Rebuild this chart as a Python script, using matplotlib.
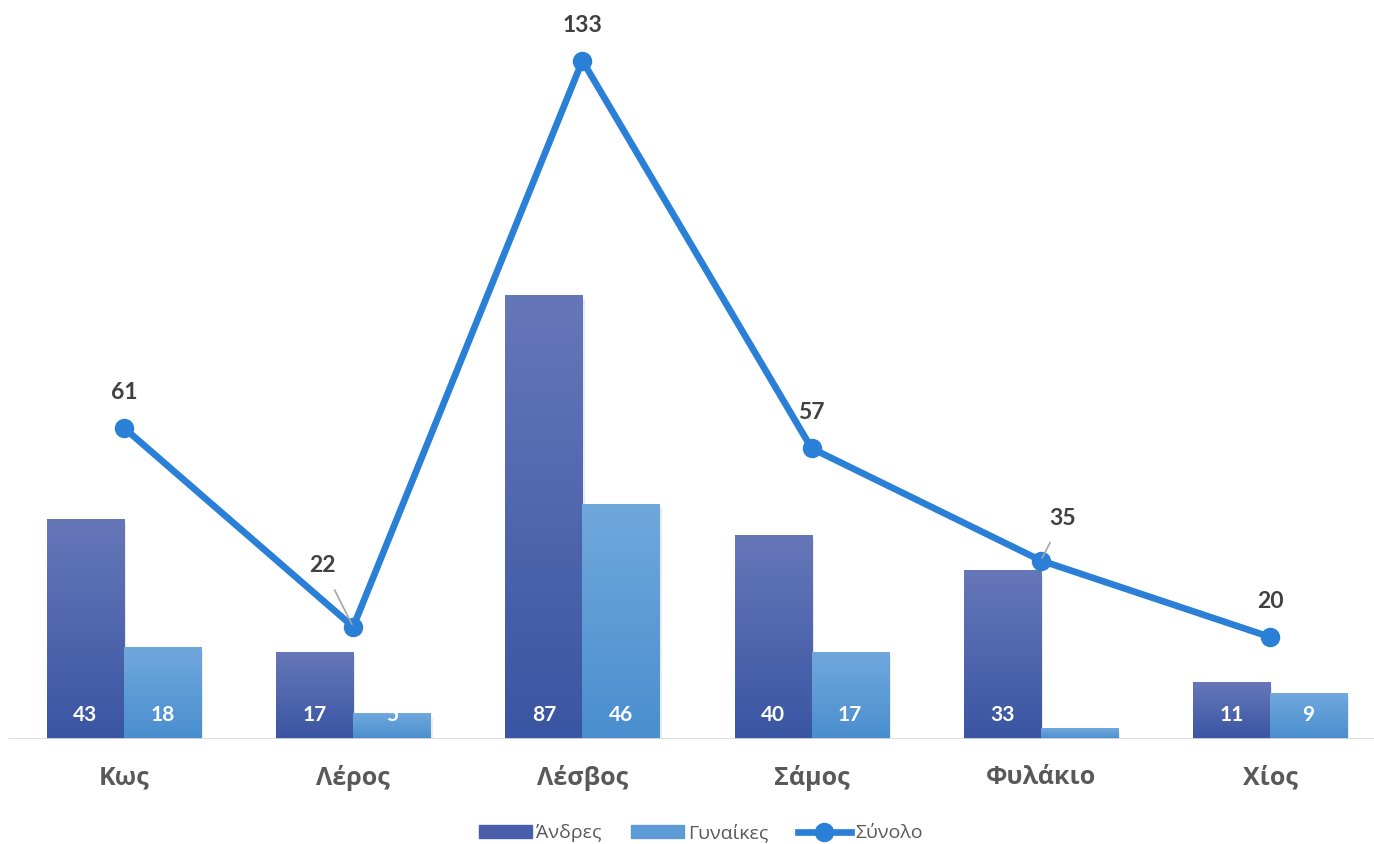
import matplotlib
matplotlib.use("Agg")
import matplotlib.pyplot as plt
import numpy as np
from matplotlib.patches import Rectangle
from matplotlib.lines import Line2D
from matplotlib.colors import LinearSegmentedColormap

categories = ["Κως", "Λέρος", "Λέσβος", "Σάμος", "Φυλάκιο", "Χίος"]
men = [43, 17, 87, 40, 33, 11]
women = [18, 5, 46, 17, 2, 9]
total = [61, 22, 133, 57, 35, 20]
series_names = ["Άνδρες", "Γυναίκες", "Σύνολο"]

W, H = 1374, 844
fig = plt.figure(figsize=(W / 100, H / 100), dpi=100)
ax = fig.add_axes([9.4 / W, (H - 739) / H, 1375.2 / W, 714 / H])
ax.set_xlim(-0.5, 5.5)
ax.set_ylim(0, 140)
ax.axis("off")

men_cmap = LinearSegmentedColormap.from_list("m", ["#3a55a3", "#6677b9"])
wom_cmap = LinearSegmentedColormap.from_list("w", ["#4a8ecf", "#70a8dc"])
grad = np.linspace(0, 1, 256).reshape(-1, 1)

bw = 0.336
x = np.arange(len(categories))


def gbar(xc, h, cmap):
    x0, x1 = xc - bw / 2, xc + bw / 2
    ax.add_patch(Rectangle((x0 + 0.01, -0.8), bw, h, color="#000000", alpha=0.08, zorder=1, lw=0))
    ax.imshow(grad, extent=[x0, x1, 0, h], origin="lower", cmap=cmap, aspect="auto", zorder=2)


for i in range(len(categories)):
    gbar(x[i] - bw / 2, men[i], men_cmap)
    gbar(x[i] + bw / 2, women[i], wom_cmap)
ax.set_xlim(-0.5, 5.5)
ax.set_ylim(0, 140)

ax.axhline(0, color="#d9d9d9", lw=2, zorder=3)

num_font = ["Lato", "DejaVu Sans"]
for i in range(len(categories)):
    ax.text(x[i] - bw / 2, 4.7, str(men[i]), ha="center", va="center", color="white",
            fontsize=15, fontweight="bold", family=num_font, zorder=5)
    if women[i] >= 5:
        ax.text(x[i] + bw / 2, 4.7, str(women[i]), ha="center", va="center", color="white",
                fontsize=15, fontweight="bold", family=num_font, zorder=5)

line_color = "#2a7fd7"
ax.plot(x, total, color=line_color, lw=4.8, marker="o", markersize=13, zorder=6,
        solid_capstyle="round", solid_joinstyle="round")

offsets = {1: (-0.135, 12.0), 4: (0.096, 8.3)}
for i, t in enumerate(total):
    if i in offsets:
        dx, dy = offsets[i]
        ax.annotate(str(t), xy=(x[i], t), xytext=(x[i] + dx, t + dy), ha="center", va="center",
                    fontsize=16.5, fontweight="bold", color="#404040", family=num_font, zorder=7,
                    arrowprops=dict(arrowstyle="-", color="#a6a6a6", lw=1.2, shrinkA=9, shrinkB=2))
    else:
        ax.text(x[i], t + 7.0, str(t), ha="center", va="center", fontsize=16.5, fontweight="bold",
                color="#404040", family=num_font, zorder=7)

for i, c in enumerate(categories):
    ax.text(x[i], -7.6, c, ha="center", va="center", fontsize=18, fontweight="bold",
            color="#595959", family=["Open Sans", "DejaVu Sans"], clip_on=False)

handles = [
    Rectangle((0, 0), 1, 1, color="#4a5fab"),
    Rectangle((0, 0), 1, 1, color="#5e9ad6"),
    Line2D([0], [0], color=line_color, lw=4.8, marker="o", markersize=13),
]
leg = fig.legend(handles, series_names, loc="center", bbox_to_anchor=(0.51, (H - 833) / H),
                 ncol=3, frameon=False, handlelength=2.75, handleheight=0.6,
                 handletextpad=0.2, columnspacing=1.5,
                 prop={"family": ["Open Sans", "DejaVu Sans"], "size": 14})
for t in leg.get_texts():
    t.set_color("#595959")

fig.savefig("out.png", dpi=100)
